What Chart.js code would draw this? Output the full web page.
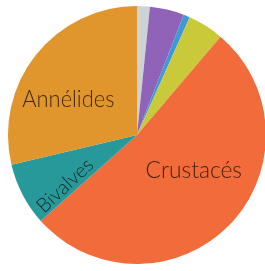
<!DOCTYPE html>
<html>
<head>
<meta charset="utf-8">
<script src="https://cdn.jsdelivr.net/npm/chart.js@4"></script>
<style>
  html, body { margin: 0; padding: 0; background: #fff; overflow: hidden; }
  #wrap { width: 268px; height: 271px; }
</style>
</head>
<body>
<div id="wrap"><canvas id="pieChart" width="268" height="271"></canvas></div>
<script>
// Catégories (sens horaire depuis midi)
const categories = ["", "", "", "", "Crustacés", "Bivalves", "Annélides"];
// Parts en %
const valeurs = [1.6, 4.3, 0.8, 4.5, 52.2, 7.9, 28.7];
const couleurs = ["#cfd2d3", "#9063b8", "#3c9ad6", "#c9c93a", "#f26b3a", "#28999a", "#e0962c"];

// Placement des étiquettes : angle (deg, depuis midi), distance au centre, rotation, taille
const etiquettes = [
  { index: 6, angle: 297, dist: 77, rot: 0, size: 23, sx: 0.95 },
  { index: 4, angle: 122, dist: 67, rot: 0, size: 23, sx: 0.99 },
  { index: 5, angle: 235, dist: 88, rot: -43, size: 20, sx: 1 },
];

const pluginEtiquettes = {
  id: "etiquettes",
  afterDatasetsDraw(chart) {
    const ctx = chart.ctx;
    const arc = chart.getDatasetMeta(0).data[0];
    const cx = arc.x, cy = arc.y;
    ctx.save();
    ctx.fillStyle = "rgba(20,10,0,0.8)";
    ctx.textAlign = "center";
    ctx.textBaseline = "middle";
    etiquettes.forEach((e) => {
      const a = (e.angle * Math.PI) / 180;
      const x = cx + e.dist * Math.sin(a);
      const y = cy - e.dist * Math.cos(a);
      ctx.save();
      ctx.translate(x, y);
      ctx.rotate((e.rot * Math.PI) / 180);
      ctx.scale(e.sx, 1);
      ctx.font = "300 " + e.size + "px Lato";
      ctx.fillText(categories[e.index], 0, 0);
      ctx.restore();
    });
    ctx.restore();
  },
};

new Chart(document.getElementById("pieChart").getContext("2d"), {
  type: "pie",
  data: {
    labels: categories,
    datasets: [
      {
        data: valeurs,
        backgroundColor: couleurs,
        borderWidth: 0,
      },
    ],
  },
  options: {
    responsive: false,
    animation: false,
    layout: { padding: { left: 8, right: 2, top: 6, bottom: 7 } },
    plugins: {
      legend: { display: false },
      tooltip: { enabled: false },
    },
  },
  plugins: [pluginEtiquettes],
});
</script>
</body>
</html>
